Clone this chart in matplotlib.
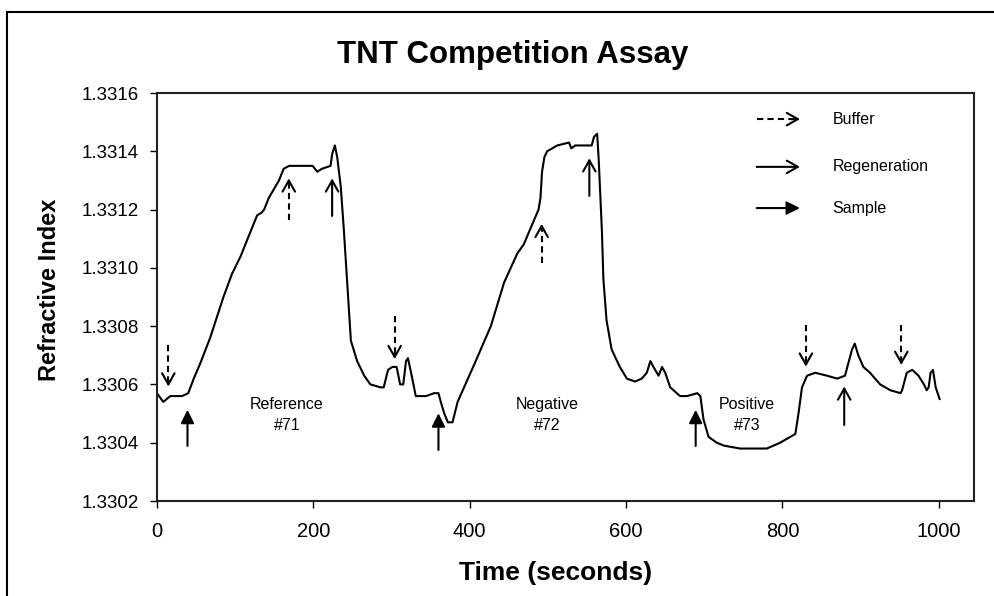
# TNT competition assay - refractive index vs time
import matplotlib
matplotlib.use("Agg")
from matplotlib import pyplot as plt
from matplotlib.patches import Rectangle

plt.rcParams['font.family'] = ['Liberation Sans', 'DejaVu Sans']

# sensor trace
time = [0, 8, 17, 32, 40, 47, 55, 68, 85, 96, 107, 119, 128, 134, 137, 143, 156, 162, 169, 199,
        205, 211, 222, 224, 227.5, 230.5, 235, 239, 243.5, 248, 256, 265, 273, 286, 290, 295.5,
        301, 306.5, 311, 315, 318.5, 321, 325, 331, 344, 354.5, 360, 363, 367.5, 372, 378, 384.5,
        406, 427, 444, 461, 469, 488, 490.5, 492.5, 495.5, 499, 512, 527, 530, 535, 556, 559, 563,
        565, 569, 571, 575, 581.5, 592, 601, 611.5, 620, 626.5, 631, 635, 641.5, 646, 650, 656.5,
        669, 678, 691, 695, 699, 705.5, 716, 725, 746, 780, 797, 803.5, 810, 816.5, 820.5, 825,
        831.5, 842, 857, 870, 880, 889, 892.5, 897, 903.5, 912, 925, 938, 951, 953, 959, 966, 974,
        981, 984.5, 987, 989.5, 992.5, 996, 1001]
ri = [1.33057, 1.33054, 1.33056, 1.33056, 1.33057, 1.33062, 1.33067, 1.33076, 1.33090, 1.33098,
      1.33104, 1.33112, 1.33118, 1.33119, 1.33120, 1.33124, 1.33130, 1.33134, 1.33135, 1.33135,
      1.33133, 1.33134, 1.33135, 1.33139, 1.33142, 1.33138, 1.33128, 1.33113, 1.33094, 1.33075,
      1.33068, 1.33063, 1.33060, 1.33059, 1.33059, 1.33065, 1.33066, 1.33066, 1.33060, 1.33060,
      1.33068, 1.33069, 1.33064, 1.33056, 1.33056, 1.33057, 1.33057, 1.33054, 1.33050, 1.33047,
      1.33047, 1.33054, 1.33067, 1.33080, 1.33095, 1.33105, 1.33108, 1.33120, 1.33124, 1.33133,
      1.33138, 1.33140, 1.33142, 1.33143, 1.33141, 1.33142, 1.33142, 1.33145, 1.33146, 1.33137,
      1.33113, 1.33096, 1.33082, 1.33072, 1.33066, 1.33062, 1.33061, 1.33062, 1.33064, 1.33068,
      1.33066, 1.33063, 1.33066, 1.33064, 1.33059, 1.33056, 1.33056, 1.33057, 1.33056, 1.33048,
      1.33042, 1.33040, 1.33039, 1.33038, 1.33038, 1.33040, 1.33041, 1.33042, 1.33043, 1.33050,
      1.33059, 1.33063, 1.33064, 1.33063, 1.33062, 1.33063, 1.33072, 1.33074, 1.33070, 1.33066,
      1.33064, 1.33060, 1.33058, 1.33057, 1.33058, 1.33064, 1.33065, 1.33063, 1.33060, 1.33058,
      1.33059, 1.33064, 1.33065, 1.33059, 1.33055]

# arrows: time, tail, tip
buffer_arrows = [(14.5, 1.330736, 1.330593), (168.6, 1.331164, 1.331307), (304, 1.330835, 1.330687),
                 (492, 1.331018, 1.331151), (830, 1.330804, 1.330661), (952, 1.330804, 1.330667)]
regen_arrows = [(224, 1.331178, 1.331307), (553, 1.331247, 1.331376), (879, 1.330461, 1.330593)]
sample_arrows = [(39, 1.330389, 1.330513), (360, 1.330375, 1.330501), (689, 1.330389, 1.330513)]

runs = ["Reference\n#71", "Negative\n#72", "Positive\n#73"]
run_pos = [166, 499, 755]
legend_names = ["Buffer", "Regeneration", "Sample"]

xticks = [0, 200, 400, 600, 800, 1000]
yticks = [1.3302, 1.3304, 1.3306, 1.3308, 1.3310, 1.3312, 1.3314, 1.3316]

fig = plt.figure(figsize=(9.94, 5.96), dpi=100)
ax = fig.add_axes([157/994, 1-501/596, 817/994, 408/596])

ax.plot(time, ri, color='black', lw=1.5)

ax.set_xlim(0, 1045)
ax.set_ylim(1.3302, 1.3316)
ax.set_xticks(xticks)
ax.set_yticks(yticks)
ax.set_yticklabels(["%.4f" % v for v in yticks])
ax.tick_params(axis='y', direction='out', length=5, width=1, labelsize=13.5, pad=8)
ax.tick_params(axis='x', direction='out', length=5, width=1, labelsize=14.5, pad=10)
for s in ax.spines.values():
    s.set_linewidth(1.5)
    s.set_color('#222222')

open_head = dict(arrowstyle='->,head_length=0.8,head_width=0.45', lw=1.5, color='black',
                 shrinkA=0, shrinkB=0)
fill_head = dict(arrowstyle='-|>,head_length=0.8,head_width=0.4', lw=1.5, color='black',
                 shrinkA=0, shrinkB=0)

# buffer: dashed shaft + open head
for t, a, b in buffer_arrows:
    mid = b - (b - a) * 0.15
    ax.plot([t, t], [a, mid], color='black', lw=1.5, ls=(0, (3, 2)))
    ax.annotate('', xy=(t, b), xytext=(t, mid), arrowprops=open_head)
for t, a, b in regen_arrows:
    ax.annotate('', xy=(t, b), xytext=(t, a), arrowprops=open_head)
for t, a, b in sample_arrows:
    ax.annotate('', xy=(t, b), xytext=(t, a), arrowprops=fill_head)

for txt, t in zip(runs, run_pos):
    ax.text(t, 1.330495, txt, ha='center', va='center', fontsize=11.5, linespacing=1.55)

# hand-drawn legend
ly = [0.936, 0.819, 0.718]
x0, x1, xt = 0.734, 0.787, 0.827
tr = ax.transAxes
ax.plot([x0, x1 - 0.012], [ly[0], ly[0]], transform=tr, color='black', lw=1.5, ls=(0, (3, 2)))
ax.annotate('', xy=(x1, ly[0]), xytext=(x1 - 0.012, ly[0]), xycoords=tr, textcoords=tr,
            arrowprops=open_head)
ax.annotate('', xy=(x1, ly[1]), xytext=(x0, ly[1]), xycoords=tr, textcoords=tr,
            arrowprops=open_head)
ax.annotate('', xy=(x1, ly[2]), xytext=(x0, ly[2]), xycoords=tr, textcoords=tr,
            arrowprops=fill_head)
for name, y in zip(legend_names, ly):
    ax.text(xt, y, name, transform=tr, ha='left', va='center', fontsize=11.5)

fig.text(513/994, 1-63/596, "TNT Competition Assay", ha='center', va='baseline',
         fontsize=22.5, fontweight='bold')
fig.text(556/994, 1-573/596, "Time (seconds)", ha='center', va='center',
         fontsize=19, fontweight='bold')
fig.text(50/994, 1-290/596, "Refractive Index", ha='center', va='center', rotation=90,
         fontsize=17, fontweight='bold')

# outer chart border (only left and top are inside the picture)
fig.add_artist(Rectangle((7/994, -0.1), 1.1, 1-12/596+0.1, transform=fig.transFigure,
                         fill=False, lw=1.5, edgecolor='black'))

fig.savefig("out.png", dpi=100)
